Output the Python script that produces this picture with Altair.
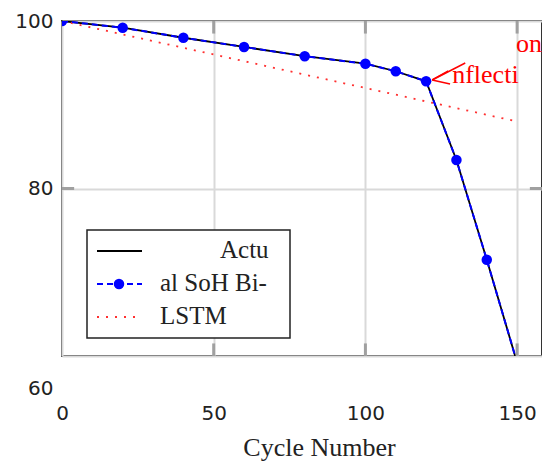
import altair as alt
import pandas as pd

# ---- data ----
cycles = [0, 20, 40, 60, 80, 100, 110, 120, 130, 140, 150]
actual_soh = [100.0, 99.2, 98.0, 96.9, 95.8, 94.9, 94.0, 92.8, 83.4, 71.5, 59.2]
bilstm_soh = [100.0, 99.2, 98.0, 96.9, 95.8, 94.9, 94.0, 92.8, 83.4, 71.5, 59.2]
lstm_cycles = [0, 150]
lstm_soh = [100.0, 88.0]
legend_labels = ["Actu", "al SoH Bi-", "LSTM"]
x_ticks = [0, 50, 100, 150]
y_ticks = [60, 80, 100]
annot_parts = ["nflecti", "on"]
annot_cycle = [128.6, 149.6]
annot_soh = [92.6, 96.3]
# arrow: tip -> shaft end / arm ends, in data units
arrow_x = [132.9, 127.3, 127.9]
arrow_y = [94.98, 94.03, 92.48]
tip_x = [122.0, 122.0, 122.0]
tip_y = [92.96, 92.96, 92.96]

SERIF = "Liberation Serif"
SANS = "DejaVu Sans"
TXT = "#222222"

actual_df = pd.DataFrame({"cycle": cycles, "soh": actual_soh})
bilstm_df = pd.DataFrame({"cycle": cycles, "soh": bilstm_soh})
lstm_df = pd.DataFrame({"cycle": lstm_cycles, "soh": lstm_soh})

xs = alt.Scale(domain=[0, 158.2], nice=False, zero=False)
ys = alt.Scale(domain=[60, 100], nice=False, zero=False)

X = alt.X(
    "cycle:Q",
    scale=xs,
    axis=alt.Axis(
        values=x_ticks, grid=True, gridColor="#d9d9d9", gridWidth=2,
        ticks=False, domain=False, labelFlush=False,
        labelFont=SANS, labelFontSize=20, labelColor=TXT, labelPadding=47,
        title="Cycle Number", titleFont=SERIF, titleFontSize=26,
        titleFontWeight="normal", titleColor=TXT,
        titleX=257, titleY=99, titleBaseline="alphabetic", titleAlign="center",
    ),
)
Y = alt.Y(
    "soh:Q",
    scale=ys,
    axis=alt.Axis(
        values=y_ticks, grid=True, gridColor="#d9d9d9", gridWidth=2,
        ticks=False, domain=False,
        labelFont=SANS, labelFontSize=20, labelColor=TXT, labelPadding=9,
        labelOffset={"condition": {"test": "datum.value == 60", "value": 32}, "value": 0},
        title=None,
    ),
)

actual_line = alt.Chart(actual_df).mark_line(color="black", strokeWidth=1.8, clip=True).encode(x=X, y=Y)
bilstm_line = alt.Chart(bilstm_df).mark_line(
    color="blue", strokeWidth=2, strokeDash=[6, 4], clip=True
).encode(x=alt.X("cycle:Q", scale=xs), y=alt.Y("soh:Q", scale=ys))
bilstm_pts = alt.Chart(bilstm_df).mark_circle(color="blue", size=110, opacity=1, clip=True).encode(
    x=alt.X("cycle:Q", scale=xs), y=alt.Y("soh:Q", scale=ys)
)
lstm_line = alt.Chart(lstm_df).mark_line(
    color="#ff3030", strokeWidth=1.8, strokeDash=[2, 7], clip=True
).encode(x=alt.X("cycle:Q", scale=xs), y=alt.Y("soh:Q", scale=ys))

# inner tick marks on the box
tick_df = pd.DataFrame({
    "cycle": [50, 100, 150, 50, 100, 150],
    "cycle2": [50, 100, 150, 50, 100, 150],
    "soh": [60, 60, 60, 98.5, 98.5, 98.5],
    "soh2": [61.5, 61.5, 61.5, 100, 100, 100],
})
ytick_df = pd.DataFrame({"cycle": [0, 154.2], "cycle2": [4, 158.2], "soh": [80, 80]})
xticks_layer = alt.Chart(tick_df).mark_rule(color="#a0a0a0", strokeWidth=3).encode(
    x=alt.X("cycle:Q", scale=xs), x2="cycle2:Q", y=alt.Y("soh:Q", scale=ys), y2="soh2:Q"
)
yticks_layer = alt.Chart(ytick_df).mark_rule(color="#a0a0a0", strokeWidth=3).encode(
    x=alt.X("cycle:Q", scale=xs), x2="cycle2:Q", y=alt.Y("soh:Q", scale=ys)
)

# annotation
annot_df = pd.DataFrame({"cycle": annot_cycle, "soh": annot_soh, "txt": annot_parts})
annot = alt.Chart(annot_df).mark_text(
    color="#ff0000", font=SERIF, fontSize=26, align="left", baseline="alphabetic"
).encode(x=alt.X("cycle:Q", scale=xs), y=alt.Y("soh:Q", scale=ys), text="txt:N")
arrow_df = pd.DataFrame({"cycle": tip_x, "soh": tip_y, "cycle2": arrow_x, "soh2": arrow_y})
arrow = alt.Chart(arrow_df).mark_rule(color="#ff0000", strokeWidth=1.5).encode(
    x=alt.X("cycle:Q", scale=xs), y=alt.Y("soh:Q", scale=ys), x2="cycle2:Q", y2="soh2:Q"
)

# manual legend (pixel positions in the plot area)
one = pd.DataFrame({"k": [0]})
leg_box = alt.Chart(one).mark_rect(fill="white", stroke="#222222", strokeWidth=1.5).encode(
    x=alt.value(25), x2=alt.value(228), y=alt.value(209), y2=alt.value(317)
)
leg_black = alt.Chart(one).mark_rule(color="black", strokeWidth=1.8).encode(
    x=alt.value(35), x2=alt.value(80), y=alt.value(230)
)
leg_blue = alt.Chart(one).mark_rule(color="blue", strokeWidth=2, strokeDash=[6, 4]).encode(
    x=alt.value(35), x2=alt.value(80), y=alt.value(263)
)
leg_dot = alt.Chart(one).mark_circle(color="blue", size=110, opacity=1).encode(
    x=alt.value(57), y=alt.value(263)
)
leg_red = alt.Chart(one).mark_rule(color="#ff3030", strokeWidth=1.8, strokeDash=[2, 7]).encode(
    x=alt.value(35), x2=alt.value(80), y=alt.value(296)
)
leg_text_pos = [(158, 229), (98, 262), (98, 295)]
leg_texts = [
    alt.Chart(one).mark_text(
        text=lab, font=SERIF, fontSize=25, color=TXT, align="left", baseline="middle"
    ).encode(x=alt.value(px), y=alt.value(py))
    for lab, (px, py) in zip(legend_labels, leg_text_pos)
]

chart = alt.layer(
    actual_line, xticks_layer, yticks_layer, lstm_line, bilstm_line, bilstm_pts,
    arrow, annot, leg_box, leg_black, leg_blue, leg_dot, leg_red, *leg_texts
).properties(
    width=480, height=335,
    padding={"left": 54, "top": 13, "right": 0, "bottom": 108},
    autosize=alt.AutoSizeParams(type="none"),
).configure_view(stroke="#333333", strokeWidth=2)

chart.save("out.html", embed_options={"renderer": "svg", "actions": False})
